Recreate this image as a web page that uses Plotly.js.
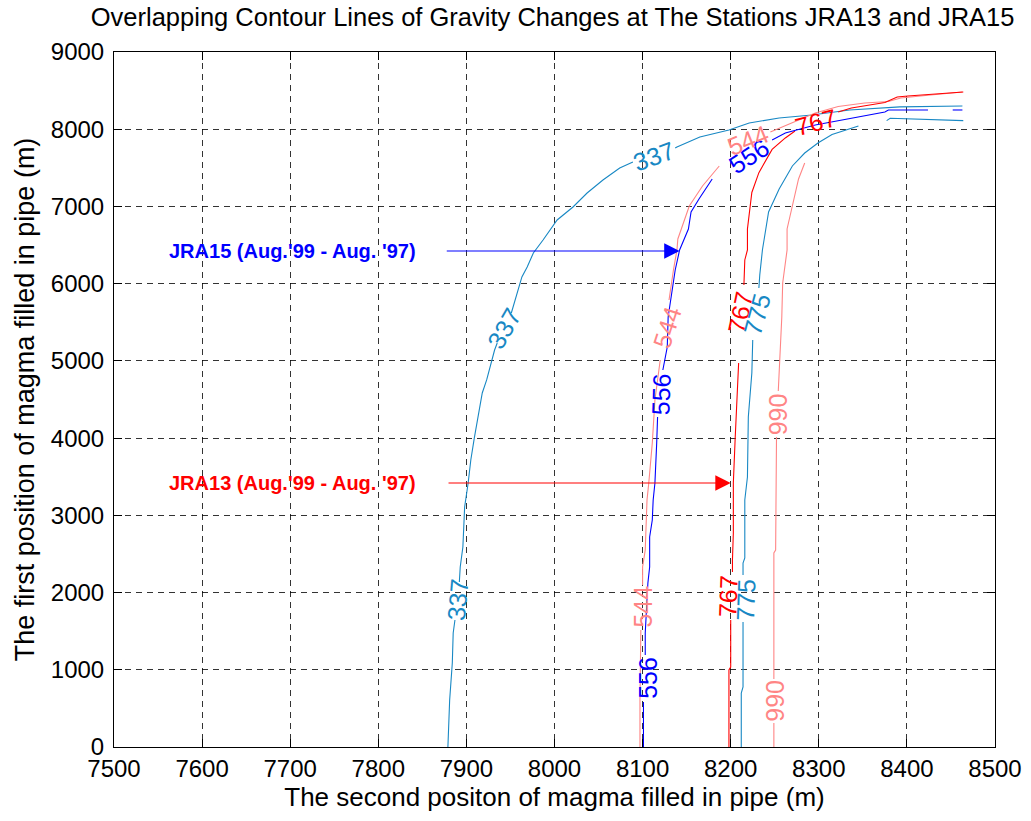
<!DOCTYPE html>
<html>
<head>
<meta charset="utf-8">
<script src="https://cdn.plot.ly/plotly-3.0.1.min.js"></script>
<style>html,body{margin:0;padding:0;background:#fff;}#chart{width:1031px;height:821px;}</style>
</head>
<body>
<div id="chart"></div>
<script>
// Contour levels (gravity change) and their traced lines
var c337x = [7879,7881,7884,7885,7887,null,7892,7893,7896,7898,7902,7905,7909,7912,7915,7918,7923,7929,7932,7935,null,7951,7953,7963,7969,7976,7987,7997,8003,8021,8037,8055,8074,8089,null,8137,8139,8165,8198,8221,8255,8292,8335,8392,8463];
var c337y = [0,609,1088,1476,1645,null,2137,2331,2590,3108,3419,3717,4002,4196,4403,4584,4753,5012,5141,5232,null,5620,5698,6087,6216,6397,6566,6734,6825,6993,7174,7343,7498,7576,null,7757,7770,7900,7990,8081,8146,8184,8249,8290,8301];

var c556x = [8101,8101,null,8103,8103,8106,8108,8108,8111,8112,8114,8116,8117,null,8123,8128,8129,8133,8137,8142,8152,8155,8164,8179,null,8247,8262,8296,8333,8375,8379,8424,null,8452,8463];
var c556y = [0,583,null,1191,1476,2124,2331,2720,2940,3199,3419,3937,4273,null,4882,5180,5569,5879,6177,6436,6708,6928,7097,7356,null,7861,7951,8055,8133,8223,8249,8249,null,8249,8249];

var c544x = [8097,8097,8098,null,8100,8100,8103,8105,8107,8111,8114,8120,null,8130,8131,8135,8139,8140,8153,8168,8187,null,8245,8270,8296,8322,8352,8379,8393,8427,8463];
var c544y = [0,609,1515,null,2098,2331,2551,3199,3419,3937,4494,5012,null,5789,5879,6177,6436,6579,7006,7265,7524,null,7964,8081,8210,8295,8340,8359,8405,8443,8482];

var c767x = [8198,8198,8200,8200,null,8202,8202,8203,8203,8203,8205,8207,8209,null,8215,8216,8219,8219,8224,8232,8247,8262,8273,null,8322,8337,8375,8389,8401,8464];
var c767y = [0,997,1036,1645,null,2266,2422,2771,3199,3419,3976,4494,4973,null,5983,6307,6436,6708,7181,7438,7738,7887,7977,null,8223,8275,8346,8418,8430,8482];

var c775x = [8212,8212,8214,8214,null,8214,8214,8216,8216,8219,8220,8224,8225,null,8232,8233,8236,8243,8255,8270,8284,8299,8315,8345,null,8377,8381,8464];
var c775y = [0,699,777,1619,null,2227,2383,2448,3199,3497,4273,4843,5271,null,5944,6112,6436,6928,7226,7524,7692,7822,7931,8042,null,8111,8142,8111];

var c990x = [8249,8249,null,8249,8249,8251,8252,null,8254,8256,8258,8259,8262,8264,8264,8270,8277,8284];
var c990y = [0,311,null,881,2512,2551,4015,null,4610,5012,5569,6009,6307,6436,6708,7006,7356,7563];

// Contour labels
var labelText  = ['337','337','337','556','556','556','544','544','544','767','767','767','775','775','990','990'];
var labelX     = [7890,7943,8113,8106,8121,8221,8100,8128,8220,8197,8211,8297,8217,8230,8250,8254];
var labelY     = [1904,5426,7653,894,4571,7653,1813,5439,7861,1955,5633,8094,1904,5607,596,4312];
var labelAngle = [-85,-60,-20,-90,-88,-33,-90,-72,-22,-88,-78,-15,-88,-75,-90,-90];

// Station arrows
var stationText = ["JRA15 (Aug.'99 - Aug. '97)", "JRA13 (Aug.'99 - Aug. '97)"];
var stationY    = [6423, 3419];
var arrowFromX  = [7876, 7878];
var arrowToX    = [8142, 8200];
var textRightX  = [7845, 7845];

var xTicks = [7500,7600,7700,7800,7900,8000,8100,8200,8300,8400,8500];
var yTicks = [0,1000,2000,3000,4000,5000,6000,7000,8000,9000];

var CYAN = '#1888c4', BLUE = '#0000ff', RED = '#ff0000', PINK = '#ff8585';
var colorOf = {'337':CYAN,'775':CYAN,'556':BLUE,'767':RED,'544':PINK,'990':PINK};
var stationColor = [BLUE, RED];
var FONT = 'Liberation Sans, Arial, sans-serif';

function tr(x, y, c) {
  return {x:x, y:y, type:'scatter', mode:'lines', connectgaps:false,
          line:{color:c, width:1.1}, hoverinfo:'skip', showlegend:false};
}
var data = [
  tr(c337x, c337y, CYAN), tr(c775x, c775y, CYAN),
  tr(c990x, c990y, PINK), tr(c544x, c544y, PINK),
  tr(c767x, c767y, RED), tr(c556x, c556y, BLUE)
];

var ann = [];
for (var i = 0; i < labelText.length; i++) {
  ann.push({x:labelX[i], y:labelY[i], xref:'x', yref:'y', text:labelText[i],
    showarrow:false, textangle:labelAngle[i],
    font:{family:FONT, size:25, color:colorOf[labelText[i]]}});
}
for (var j = 0; j < stationText.length; j++) {
  ann.push({x:arrowToX[j], y:stationY[j], ax:arrowFromX[j], ay:stationY[j],
    xref:'x', yref:'y', axref:'x', ayref:'y', text:'', showarrow:true,
    arrowhead:2, arrowsize:2.8, arrowwidth:1.1, arrowcolor:stationColor[j], standoff:0});
  ann.push({x:textRightX[j], y:stationY[j], xref:'x', yref:'y', xanchor:'right', yanchor:'middle',
    text:'<b>' + stationText[j] + '</b>', showarrow:false,
    font:{family:FONT, size:20, color:stationColor[j]}});
}

var axisCommon = {
  showline:true, linecolor:'#000', linewidth:1, mirror:'allticks',
  ticks:'inside', ticklen:8, tickcolor:'#000', tickwidth:1,
  showgrid:true, gridcolor:'rgba(0,0,0,0.8)', gridwidth:1, griddash:'6px,5px',
  zeroline:false, tickfont:{family:FONT, size:24, color:'#000'}
};

var layout = {
  width:1031, height:821,
  margin:{l:114, r:36, t:52, b:74},
  paper_bgcolor:'#fff', plot_bgcolor:'#fff',
  title:{text:'Overlapping Contour Lines of Gravity Changes at The Stations JRA13 and JRA15',
    x:0.536, xanchor:'center', y:0.99, yanchor:'top',
    font:{family:FONT, size:25.5, color:'#000'}},
  xaxis:Object.assign({}, axisCommon, {range:[7500,8500], tickvals:xTicks, ticktext:xTicks.map(String),
    title:{text:'The second positon of magma filled in pipe (m)', standoff:6,
      font:{family:FONT, size:26, color:'#000'}}}),
  yaxis:Object.assign({}, axisCommon, {range:[0,9000], tickvals:yTicks, ticktext:yTicks.map(String),
    ticklabelstandoff:4,
    title:{text:'The first position of magma filled in pipe (m)', standoff:8,
      font:{family:FONT, size:27, color:'#000'}}}),
  annotations:ann,
  showlegend:false
};

Plotly.newPlot('chart', data, layout, {displayModeBar:false, staticPlot:true});
</script>
</body>
</html>
